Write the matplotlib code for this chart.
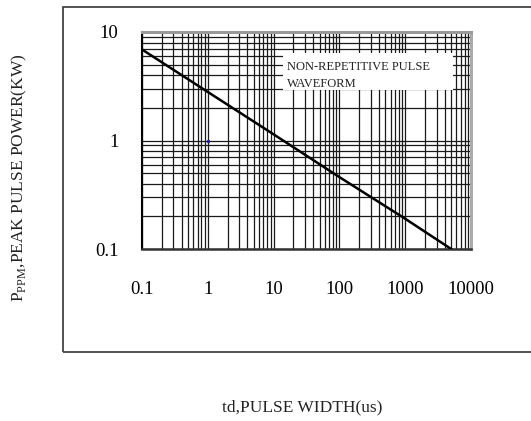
import matplotlib
matplotlib.use('Agg')
import matplotlib.pyplot as plt
from matplotlib.patches import Rectangle
from matplotlib.ticker import LogLocator, NullFormatter, FixedLocator, FixedFormatter

plt.rcParams['font.family'] = 'Liberation Serif'
plt.rcParams['mathtext.fontset'] = 'custom'
plt.rcParams['mathtext.rm'] = 'Liberation Serif'

# courbe (td en us, Ppm en kW)
td = [0.1, 1, 10, 100, 1000, 5000]
ppm = [6.9, 2.8, 1.14, 0.46, 0.19, 0.1]

x_ticks = [0.1, 1, 10, 100, 1000, 10000]
x_labels = ['0.1', '1', '10', '100', '1000', '10000']
y_ticks = [0.1, 1, 10]
y_labels = ['0.1', '1', '10']

fig = plt.figure(figsize=(5.31, 4.21), dpi=100)
ax = fig.add_axes([142/531, 172/421, 329/531, 217/421])

ax.set_xscale('log')
ax.set_yscale('log')
ax.set_xlim(0.1, 10000)
ax.set_ylim(0.1, 10)

ax.xaxis.set_major_locator(FixedLocator(x_ticks))
ax.xaxis.set_major_formatter(FixedFormatter(x_labels))
ax.yaxis.set_major_locator(FixedLocator(y_ticks))
ax.yaxis.set_major_formatter(FixedFormatter(y_labels))
ax.xaxis.set_minor_locator(LogLocator(base=10, subs=range(2, 10), numticks=20))
ax.yaxis.set_minor_locator(LogLocator(base=10, subs=range(2, 10), numticks=20))
ax.xaxis.set_minor_formatter(NullFormatter())
ax.yaxis.set_minor_formatter(NullFormatter())

ax.grid(True, which='both', color='#1a1a1a', linewidth=0.9)
ax.tick_params(which='both', length=0)
ax.tick_params(axis='x', which='major', pad=23, labelsize=13.5)
ax.tick_params(axis='y', which='major', pad=17, labelsize=13.5)

ax.spines['left'].set_color('black')
ax.spines['left'].set_linewidth(1.5)
ax.spines['bottom'].set_color('#333333')
ax.spines['bottom'].set_linewidth(1.8)
ax.spines['top'].set_color('#999999')
ax.spines['top'].set_linewidth(2.2)
ax.spines['right'].set_color('#aaaaaa')
ax.spines['right'].set_linewidth(2.2)

ax.plot(td, ppm, color='black', linewidth=1.8, zorder=5)
ax.plot([1], [1], marker='s', markersize=1.2, color='#1a1aa0', zorder=6)

# cadre blanc du texte
ax.add_patch(Rectangle((0.4286, 0.733), 0.5165, 0.17, transform=ax.transAxes,
                       facecolor='white', edgecolor='none', zorder=3))
ax.text(0.44, 0.865, 'NON-REPETITIVE PULSE\nWAVEFORM', transform=ax.transAxes,
        ha='left', va='top', fontsize=9, linespacing=1.55, zorder=4, color='#222222')

fig.text(19/531, 1 - 178/421, r'P$_{\mathrm{PPM}}$,PEAK PULSE POWER(KW)',
         rotation=90, ha='center', va='center', fontsize=12.5, color='#222222')
fig.text(302/531, 1 - 407/421, 'td,PULSE WIDTH(us)', ha='center', va='center',
         fontsize=12.5, color='#222222')

# cadre extérieur
fig.add_artist(Rectangle((63/531, 1 - 352/421), 1.0, 345/421, transform=fig.transFigure,
                         facecolor='none', edgecolor='#444444', linewidth=1.3))

fig.savefig('out.png', dpi=100)
